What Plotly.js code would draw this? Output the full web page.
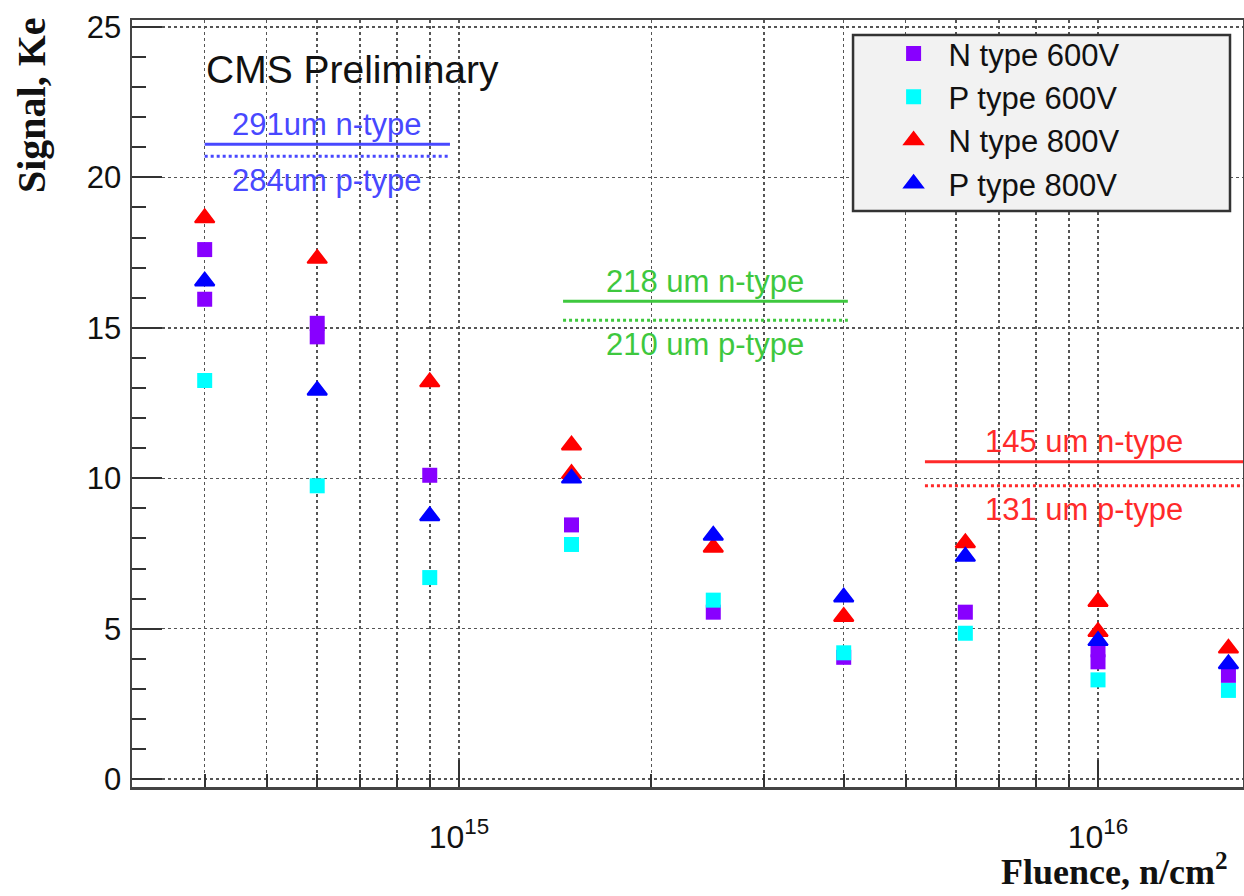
<!DOCTYPE html>
<html><head><meta charset="utf-8">
<script src="https://cdn.plot.ly/plotly-3.0.1.min.js"></script>
<style>html,body{margin:0;padding:0;background:#fff}</style>
</head><body><div id="chart" style="width:1244px;height:896px"></div>
<script>
// ---- data ----
const fluenceN600 = [4e14, 4e14, 6e14, 6e14, 9e14, 1.5e15, 2.5e15, 4e15, 6.2e15, 1e16, 1e16, 1.6e16];
const signalN600  = [17.6, 15.95, 15.15, 14.7, 10.1, 8.45, 5.55, 4.05, 5.55, 4.3, 3.9, 3.45];
const fluenceP600 = [4e14, 6e14, 9e14, 1.5e15, 2.5e15, 4e15, 6.2e15, 1e16, 1.6e16];
const signalP600  = [13.25, 9.75, 6.7, 7.8, 5.95, 4.2, 4.85, 3.3, 2.95];
const fluenceN800 = [4e14, 6e14, 9e14, 1.5e15, 1.5e15, 2.5e15, 4e15, 6.2e15, 1e16, 1e16, 1.6e16];
const signalN800  = [18.65, 17.3, 13.2, 11.1, 10.15, 7.7, 5.4, 7.85, 5.9, 4.9, 4.35];
const fluenceP800 = [4e14, 6e14, 9e14, 1.5e15, 2.5e15, 4e15, 6.2e15, 1e16, 1.6e16];
const signalP800  = [16.55, 12.92, 8.75, 10.0, 8.1, 6.05, 7.4, 4.6, 3.83];
const seriesNames = ['N type 600V', 'P type 600V', 'N type 800V', 'P type 800V'];

// reference (unirradiated) signal levels per thickness
const refNLabels = ['291um n-type', '218 um n-type', '145 um n-type'];
const refPLabels = ['284um p-type', '210 um p-type', '131 um p-type'];
const refNSignal = [21.1, 15.88, 10.55];
const refPSignal = [20.7, 15.25, 9.75];
const refFrom    = [4e14, 1.455e15, 5.36e15];
const refTo      = [9.68e14, 4.06e15, 1.75e16];

const xTickVals = [1e15, 1e16];
const xTickText = ['10<sup>15</sup>', '10<sup>16</sup>'];

// ---- styles ----
const refColors = ['#4848ff', '#3ec83e', '#ff2a2a'];
const FONT = 'Liberation Sans, Arial, Helvetica, sans-serif';
const SERIF = 'Liberation Serif, Times New Roman, serif';

const xMinor = [];
for (let e = 14; e <= 16; e++) for (let m = 2; m <= 9; m++) xMinor.push(m * Math.pow(10, e));

const traces = [
  {x: fluenceN600, y: signalN600, name: seriesNames[0], mode: 'markers', type: 'scatter',
   marker: {symbol: 'square', size: 15, color: '#8800ff'}},
  {x: fluenceP600, y: signalP600, name: seriesNames[1], mode: 'markers', type: 'scatter',
   marker: {symbol: 'square', size: 15, color: '#00ffff'}},
  {x: fluenceN800, y: signalN800, name: seriesNames[2], mode: 'markers', type: 'scatter',
   marker: {symbol: 'triangle-up', size: 17, color: '#ff0000', line: {color: '#ff0000', width: 2}}},
  {x: fluenceP800, y: signalP800, name: seriesNames[3], mode: 'markers', type: 'scatter',
   marker: {symbol: 'triangle-up', size: 17, color: '#0000ff', line: {color: '#0000ff', width: 2}}}
];

const annotations = [];
refNSignal.forEach((v, i) => {
  traces.push({x: [refFrom[i], refTo[i]], y: [v, v], mode: 'lines', type: 'scatter', showlegend: false,
    hoverinfo: 'skip', line: {color: refColors[i], width: 3}});
  traces.push({x: [refFrom[i], refTo[i]], y: [refPSignal[i], refPSignal[i]], mode: 'lines', type: 'scatter',
    showlegend: false, hoverinfo: 'skip', line: {color: refColors[i], width: 3, dash: 'dot'}});
  const toX = Math.min(refTo[i], Math.pow(10, 16.2269));
  const mid = (Math.log10(refFrom[i]) + Math.log10(toX)) / 2;
  annotations.push({x: mid, y: v, xref: 'x', yref: 'y', text: refNLabels[i], showarrow: false,
    yshift: 20, font: {family: FONT, size: 31, color: refColors[i]}});
  annotations.push({x: mid, y: refPSignal[i], xref: 'x', yref: 'y', text: refPLabels[i], showarrow: false,
    yshift: -24, font: {family: FONT, size: 31, color: refColors[i]}});
});

annotations.push({xref: 'paper', yref: 'paper', x: 0.065, y: 0.936, xanchor: 'left', yanchor: 'middle',
  text: 'CMS Preliminary', showarrow: false, font: {family: FONT, size: 39, color: '#111'}});
annotations.push({xref: 'paper', yref: 'paper', x: -0.091, y: 0.889, xanchor: 'center', yanchor: 'middle',
  textangle: -90, text: '<b>Signal, Ke</b>', showarrow: false, font: {family: SERIF, size: 40, color: '#111'}});
annotations.push({xref: 'paper', yref: 'paper', x: 0.988, y: -0.108, xanchor: 'right', yanchor: 'middle',
  text: '<b>Fluence, n/cm<sup>2</sup></b>', showarrow: false, font: {family: SERIF, size: 36, color: '#111'}});

const layout = {
  width: 1244, height: 896,
  margin: {l: 132, r: 1, t: 20, b: 109},
  paper_bgcolor: '#fff', plot_bgcolor: '#fff',
  showlegend: true,
  legend: {x: 0.672, y: 0.991, xanchor: 'left', yanchor: 'top', bgcolor: 'rgba(0,0,0,0)', borderwidth: 0,
    font: {family: FONT, size: 31, color: '#111'}, itemwidth: 60, tracegroupgap: 0},
  xaxis: {type: 'log', range: [14.4883, 16.2269], tickmode: 'array', tickvals: xTickVals, ticktext: xTickText,
    ticks: 'inside', ticklen: 27, tickwidth: 2, tickcolor: '#333',
    showgrid: true, gridcolor: '#555', griddash: 'dot', gridwidth: 1.5,
    minor: {tickmode: 'array', tickvals: xMinor, ticks: 'inside', ticklen: 13, tickwidth: 2, tickcolor: '#333',
      showgrid: true, gridcolor: '#555', griddash: 'dot', gridwidth: 1.5},
    showline: true, linecolor: '#444', linewidth: 2.5, mirror: true, zeroline: false,
    tickfont: {family: FONT, size: 32, color: '#111'}, ticklabelstandoff: 20},
  yaxis: {range: [-0.26, 25.23], tickmode: 'linear', tick0: 0, dtick: 5,
    ticks: 'inside', ticklen: 30, tickwidth: 2, tickcolor: '#333',
    showgrid: true, gridcolor: '#555', griddash: 'dot', gridwidth: 1.5,
    minor: {dtick: 1, ticks: 'inside', ticklen: 14, tickwidth: 2, tickcolor: '#333', showgrid: false},
    showline: true, linecolor: '#444', linewidth: 2.5, mirror: true, zeroline: false,
    tickfont: {family: FONT, size: 31, color: '#111'}, ticklabelstandoff: 2},
  shapes: [{type: 'rect', xref: 'paper', yref: 'paper', x0: 0.649, x1: 0.9883, y0: 0.751, y1: 0.9804,
    fillcolor: '#f2f2f2', line: {color: '#333', width: 2.5}, layer: 'above'}],
  annotations: annotations
};

Plotly.newPlot('chart', traces, layout, {displayModeBar: false, staticPlot: true});
</script></body></html>
